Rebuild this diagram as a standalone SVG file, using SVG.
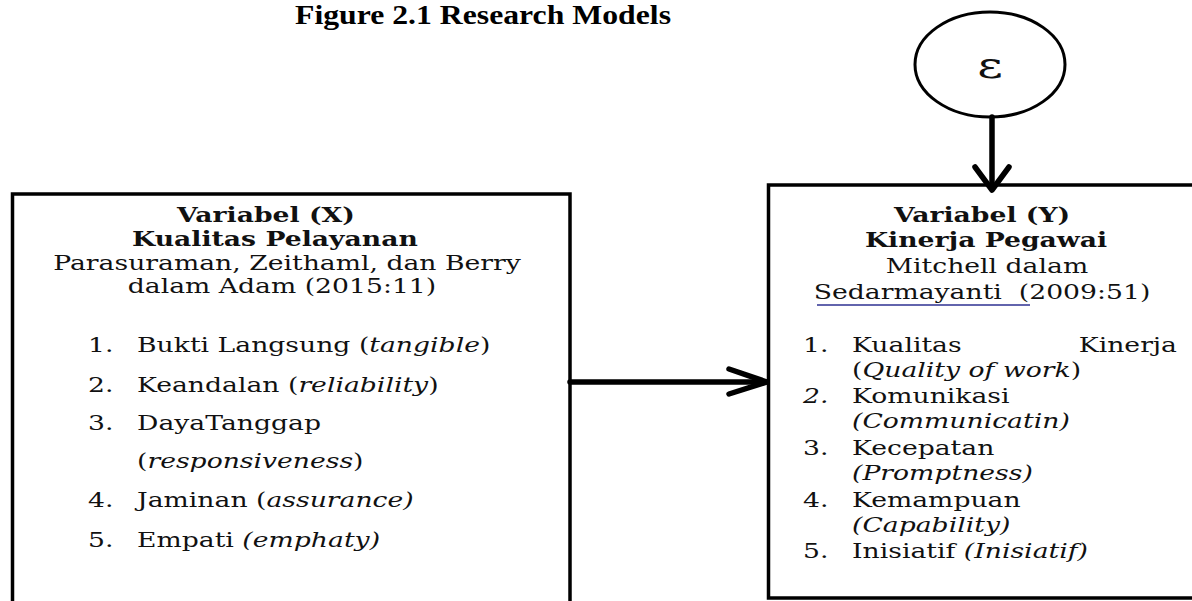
<svg xmlns="http://www.w3.org/2000/svg" width="1192" height="601" viewBox="0 0 1192 601">
<style>
.t{font-family:"DejaVu Serif","Liberation Serif",serif;font-size:20.5px;fill:#111}
.b{font-weight:bold}
.i{font-style:italic}
.c{text-anchor:middle}
.box{fill:#fff;stroke:#000;stroke-width:3.5}
.conn{fill:none;stroke:#000;stroke-width:5.5;stroke-linecap:round;stroke-linejoin:round}
</style>
<rect width="1192" height="601" fill="#fff"/>
<g id="title">
<text x="295" y="24" textLength="376" lengthAdjust="spacingAndGlyphs" style="font-family:'Liberation Serif',serif;font-weight:bold;font-size:28px;fill:#000">Figure 2.1 Research Models</text>
</g>
<g id="node-x">
<rect class="box" x="12.5" y="194" width="557.5" height="430"/>
<g transform="scale(1.3 1)">
<text class="t b c" x="204.6" y="222">Variabel (X)</text>
<text class="t b c" x="211.5" y="246">Kualitas Pelayanan</text>
<text class="t c" x="220.8" y="270">Parasuraman, Zeithaml, dan Berry</text>
<text class="t c" x="216.9" y="293">dalam Adam (2015:11)</text>
<text class="t" x="67.7" y="352">1.</text>
<text class="t" x="105.4" y="352">Bukti Langsung (<tspan class="i">tangible</tspan>)</text>
<text class="t" x="67.7" y="392">2.</text>
<text class="t" x="105.4" y="392">Keandalan (<tspan class="i">reliability</tspan>)</text>
<text class="t" x="67.7" y="430">3.</text>
<text class="t" x="105.4" y="430">DayaTanggap</text>
<text class="t" x="105.4" y="468">(<tspan class="i">responsiveness</tspan>)</text>
<text class="t" x="67.7" y="507">4.</text>
<text class="t" x="105.4" y="507">Jaminan (<tspan class="i">assurance)</tspan></text>
<text class="t" x="67.7" y="547">5.</text>
<text class="t" x="105.4" y="547">Empati <tspan class="i">(emphaty)</tspan></text>
</g>
</g>
<g id="node-epsilon">
<ellipse cx="990" cy="64.5" rx="75" ry="52.5" fill="#fff" stroke="#000" stroke-width="3"/>
<g transform="scale(1.3 1)">
<text class="t c" x="761.5" y="78" style="font-size:38px">ε</text>
</g>
</g>
<g id="node-y">
<rect class="box" x="768.5" y="185" width="440" height="413"/>
<g transform="scale(1.3 1)">
<text class="t b c" x="755.4" y="222">Variabel (Y)</text>
<text class="t b c" x="758.5" y="247">Kinerja Pegawai</text>
<text class="t c" x="759.2" y="273">Mitchell dalam</text>
<text class="t c" x="755.4" y="299" style="white-space:pre">Sedarmayanti  (2009:51)</text>
<text class="t" x="617.7" y="352">1.</text>
<text class="t" x="655.4" y="352">Kualitas</text>
<text class="t" x="905.4" y="352" style="text-anchor:end">Kinerja</text>
<text class="t" x="655.4" y="377">(<tspan class="i">Quality of work</tspan>)</text>
<text class="t i" x="617.7" y="403">2.</text>
<text class="t" x="655.4" y="403">Komunikasi</text>
<text class="t i" x="655.4" y="428">(Communicatin)</text>
<text class="t" x="617.7" y="455">3.</text>
<text class="t" x="655.4" y="455">Kecepatan</text>
<text class="t i" x="655.4" y="480">(Promptness)</text>
<text class="t" x="617.7" y="507">4.</text>
<text class="t" x="655.4" y="507">Kemampuan</text>
<text class="t i" x="655.4" y="532">(Capability)</text>
<text class="t" x="617.7" y="558">5.</text>
<text class="t" x="655.4" y="558">Inisiatif <tspan class="i">(Inisiatif)</tspan></text>
</g>
<line x1="817" y1="305" x2="1030" y2="305" stroke="#2e3192" stroke-width="1.5"/>
</g>
<g id="connectors">
<path class="conn" d="M570 382 H765"/>
<path class="conn" d="M729 369 L767 382 L729 394"/>
<path class="conn" d="M992 117 V188"/>
<path class="conn" d="M975 167 L992 190 L1009 167"/>
</g>
</svg>
